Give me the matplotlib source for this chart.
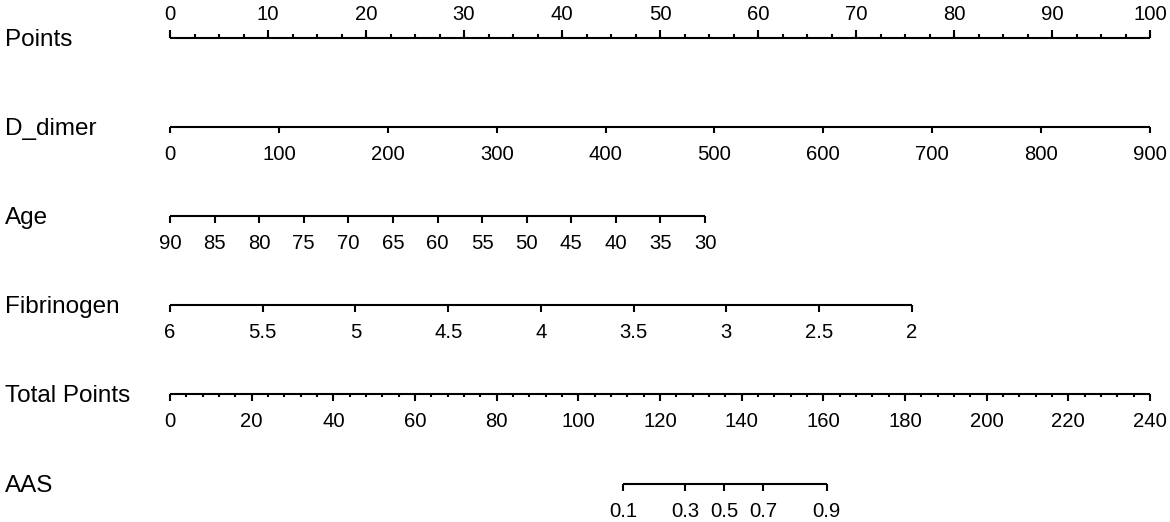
import matplotlib
matplotlib.use('Agg')
import matplotlib.pyplot as plt
import numpy as np

plt.rcParams['font.family'] = ['Liberation Sans', 'DejaVu Sans']

# nomogram scales
row_names = ['Points', 'D_dimer', 'Age', 'Fibrinogen', 'Total Points', 'AAS']

points_major = [0, 10, 20, 30, 40, 50, 60, 70, 80, 90, 100]
points_minor = np.arange(0, 100.1, 2.5)

d_dimer_vals = [0, 100, 200, 300, 400, 500, 600, 700, 800, 900]
d_dimer_max_pts = 100.0

age_vals = [90, 85, 80, 75, 70, 65, 60, 55, 50, 45, 40, 35, 30]
age_max_pts = 54.6

fib_vals = [6, 5.5, 5, 4.5, 4, 3.5, 3, 2.5, 2]
fib_max_pts = 75.7

total_major = [0, 20, 40, 60, 80, 100, 120, 140, 160, 180, 200, 220, 240]
total_minor = np.arange(0, 240.1, 4)
total_max = 240.0

aas_probs = [0.1, 0.3, 0.5, 0.7, 0.9]
aas_total = [110.9, 126.1, 135.7, 145.3, 160.8]


def lin_pts(vals, max_pts):
    v = np.asarray(vals, float)
    return (v - v[0]) / (v[-1] - v[0]) * max_pts


def total_to_pts(t):
    return np.asarray(t, float) * 100.0 / total_max


# figure in pixel-like layout: 0 points at 170 px, 100 points at 1150 px
W, H = 1170, 522
x0, scale = 170.0, 9.8
fig = plt.figure(figsize=(W / 100, H / 100), dpi=100)
ax = fig.add_axes([0, 0, 1, 1])
ax.set_xlim(-x0 / scale, (W - x0) / scale)
ax.set_ylim(H, 0)
ax.axis('off')

rows_y = [38, 127, 216, 305, 394, 484]
lw = 1.5
tick_fs = 14.6
label_fs = 17.5


def draw_scale(y, pos, labels, minor=None, up=False, major_len=7, minor_len=3.5):
    d = -1 if up else 1
    ax.plot([min(pos), max(pos)], [y, y], color='black', lw=lw,
            solid_capstyle='butt')
    ax.vlines(pos, y, y + d * major_len, color='black', lw=lw)
    if minor is not None:
        ax.vlines(minor, y, y + d * minor_len, color='black', lw=lw)
    ty = y - 18 if up else y + 33
    for p, lab in zip(pos, labels):
        ax.text(p, ty, lab, ha='center', va='baseline', fontsize=tick_fs)


for name, y in zip(row_names, rows_y):
    ax.text(-x0 / scale + 5 / scale, y + 8, name, ha='left', va='baseline',
            fontsize=label_fs)

draw_scale(rows_y[0], np.asarray(points_major, float),
           [str(v) for v in points_major], minor=points_minor, up=True,
           major_len=8, minor_len=4)
draw_scale(rows_y[1], lin_pts(d_dimer_vals, d_dimer_max_pts),
           [str(v) for v in d_dimer_vals], major_len=6)
draw_scale(rows_y[2], lin_pts(age_vals, age_max_pts),
           [str(v) for v in age_vals])
draw_scale(rows_y[3], lin_pts(fib_vals, fib_max_pts),
           ['%g' % v for v in fib_vals])
draw_scale(rows_y[4], total_to_pts(total_major),
           [str(v) for v in total_major], minor=total_to_pts(total_minor),
           major_len=7, minor_len=3)
draw_scale(rows_y[5], total_to_pts(aas_total),
           ['%g' % v for v in aas_probs])

fig.savefig('out.png', dpi=100)
